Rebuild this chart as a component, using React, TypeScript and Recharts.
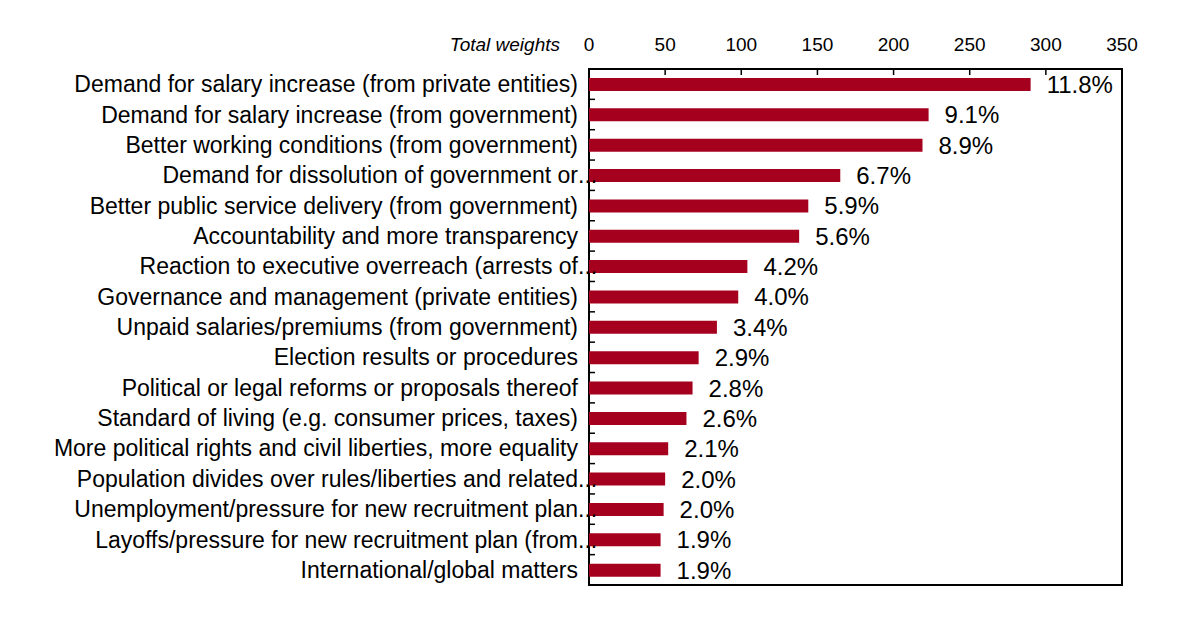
import { BarChart, Bar, XAxis, YAxis, LabelList, ReferenceArea } from "recharts";

// Protest motives, ranked by total weight
const categories = [
  "Demand for salary increase (from private entities)",
  "Demand for salary increase (from government)",
  "Better working conditions (from government)",
  "Demand for dissolution of government or...",
  "Better public service delivery (from government)",
  "Accountability and more transparency",
  "Reaction to executive overreach (arrests of...",
  "Governance and management (private entities)",
  "Unpaid salaries/premiums (from government)",
  "Election results or procedures",
  "Political or legal reforms or proposals thereof",
  "Standard of living (e.g. consumer prices, taxes)",
  "More political rights and civil liberties, more equality",
  "Population divides over rules/liberties and related...",
  "Unemployment/pressure for new recruitment plan...",
  "Layoffs/pressure for new recruitment plan (from...",
  "International/global matters",
];
const weights = [290, 223, 219, 165, 144, 138, 104, 98, 84, 72, 68, 64, 52, 50, 49, 47, 47];
const shares = [11.8, 9.1, 8.9, 6.7, 5.9, 5.6, 4.2, 4.0, 3.4, 2.9, 2.8, 2.6, 2.1, 2.0, 2.0, 1.9, 1.9];
const xTicks = [0, 50, 100, 150, 200, 250, 300, 350];

const data = categories.map((label, i) => ({ label, weight: weights[i], share: shares[i] }));

const W = 1200;
const H = 620;
const MARGIN = { top: 0, right: 78, bottom: 35, left: 0 };
const X_AXIS_H = 69;
const Y_AXIS_W = 589;
const PLOT_TOP = MARGIN.top + X_AXIS_H;
const PLOT_LEFT = MARGIN.left + Y_AXIS_W;
const BAND = (H - MARGIN.bottom - PLOT_TOP) / categories.length;
const FONT = "'Liberation Sans', Arial, sans-serif";
const RED = "#A6001F";

function TopTick({ x, payload }: any) {
  const v = payload.value;
  return (
    <g>
      {v > 0 && v < 350 && (
        <line x1={x} x2={x} y1={PLOT_TOP} y2={PLOT_TOP + 6} stroke="#000" strokeWidth={1.5} />
      )}
      <text x={x} y={51} textAnchor="middle" fontSize={19} fontFamily={FONT} fill="#000">
        {v}
      </text>
      {v === 0 && (
        <text x={x - 29} y={51} textAnchor="end" fontSize={19} fontStyle="italic" fontFamily={FONT} fill="#000">
          Total weights
        </text>
      )}
    </g>
  );
}

function CategoryTick({ y, payload, index }: any) {
  const text: string = payload.value;
  const cut = text.endsWith("...");
  const head = cut ? text.slice(0, -3) : text;
  const tx = PLOT_LEFT - 11;
  return (
    <g>
      {index > 0 && (
        <line x1={PLOT_LEFT} x2={PLOT_LEFT + 6} y1={y - BAND / 2} y2={y - BAND / 2} stroke="#000" strokeWidth={1.5} />
      )}
      <text x={tx} y={y} dy="0.35em" textAnchor="end" fontSize={23} fontFamily={FONT} fill="#000">
        {head}
      </text>
      {cut && (
        <text x={tx} y={y} dy="0.35em" textAnchor="start" fontSize={23} fontFamily={FONT} fill="#000">
          ...
        </text>
      )}
    </g>
  );
}

export default function App() {
  return (
    <div style={{ position: "absolute", left: 0, top: 0, width: W, height: H, background: "#fff" }}>
      <BarChart width={W} height={H} data={data} layout="vertical" margin={MARGIN}>
        <XAxis
          type="number"
          orientation="top"
          domain={[0, 350]}
          ticks={xTicks}
          interval={0}
          height={X_AXIS_H}
          axisLine={false}
          tickLine={false}
          tick={TopTick}
        />
        <YAxis
          type="category"
          dataKey="label"
          width={Y_AXIS_W}
          interval={0}
          axisLine={false}
          tickLine={false}
          tick={CategoryTick}
        />
        <Bar dataKey="weight" fill={RED} barSize={13} isAnimationActive={false}>
          <LabelList
            dataKey="share"
            position="right"
            offset={16}
            formatter={(v: any) => `${Number(v).toFixed(1)}%`}
            fontSize={24}
            fontFamily={FONT}
            fill="#000"
          />
        </Bar>
        <ReferenceArea x1={0} x2={350} fill="none" fillOpacity={0} stroke="#000" strokeWidth={2} />
      </BarChart>
    </div>
  );
}
